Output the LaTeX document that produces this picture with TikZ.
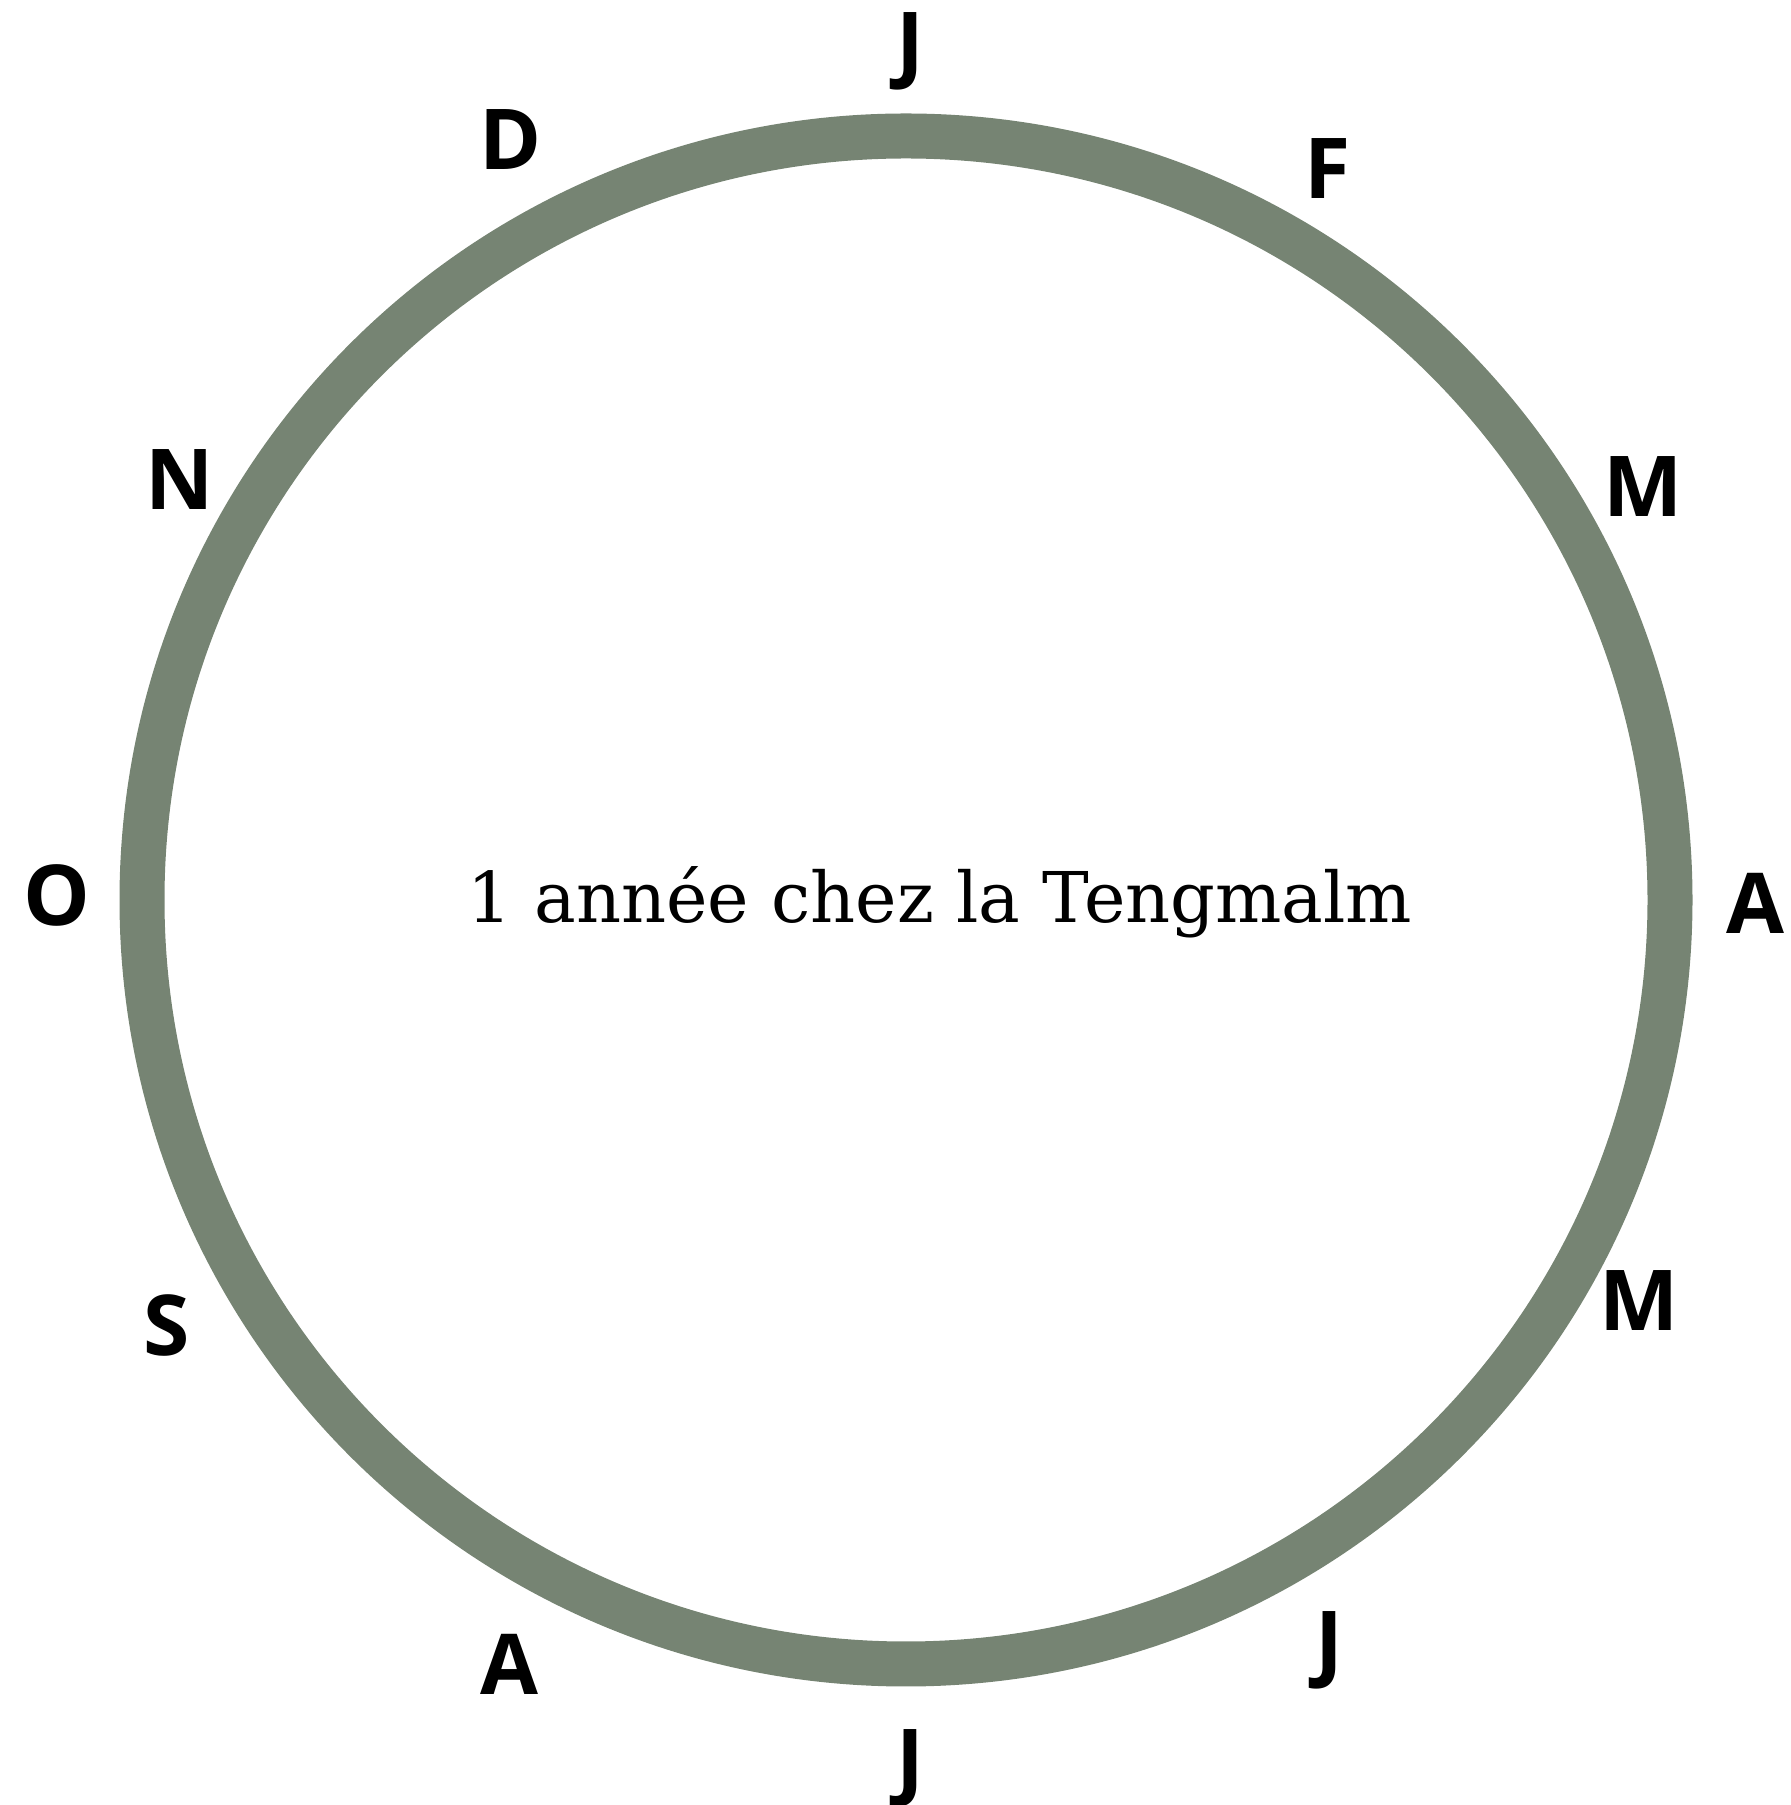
\documentclass[tikz,border=0pt]{standalone}
\usepackage{fontspec}
\setmainfont{DejaVu Serif}
\newfontfamily\moisfont{Open Sans}
\definecolor{anneau}{RGB}{118,132,115}

\begin{document}
\begin{tikzpicture}[
    x=1pt, y=1pt,
    mois/.style={font=\moisfont\bfseries\fontsize{84}{84}\selectfont, anchor=base, inner sep=0pt},
    titre/.style={font=\fontsize{70}{73}\selectfont, anchor=base, inner sep=0pt}
]
\useasboundingbox (0,0) rectangle (1791,1805);

% the ring of the year
\coordinate (centre) at (906,905);
\draw[anneau, line width=45pt] (centre) circle (764);

\node[titre] (annee) at (940,882) {1 année chez la Tengmalm};

% months, clockwise from the top
\node[mois] (jan) at (910,1732) {J};
\node[mois] (fev) at (1328,1606) {F};
\node[mois] (mar) at (1643,1288) {M};
\node[mois] (avr) at (1755,871) {A};
\node[mois] (mai) at (1639,474) {M};
\node[mois] (juin) at (1329,133) {J};
\node[mois] (juil) at (910,16) {J};
\node[mois] (aou) at (509,110) {A};
\node[mois] (sep) at (167,449) {S};
\node[mois] (oct) at (57,879) {O};
\node[mois] (nov) at (180,1295) {N};
\node[mois] (dec) at (511,1635) {D};

\end{tikzpicture}
\end{document}
